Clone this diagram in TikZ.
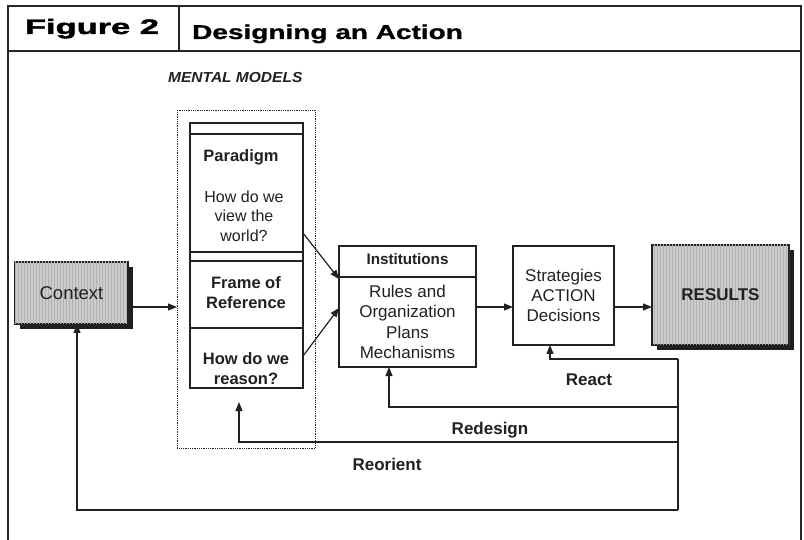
\documentclass[tikz,border=0pt]{standalone}
\usepackage{fontspec}
\setmainfont{Liberation Sans}
\newfontfamily\hdrfont{Liberation Sans}[BoldFeatures={FakeBold=1.6}]
\newfontfamily\ttlfont{Liberation Sans}[BoldFeatures={FakeBold=0.8}]
\usepackage{graphicx}
\usetikzlibrary{arrows.meta,patterns,shadows,calc}

\definecolor{ink}{gray}{0.13}
\definecolor{boxfill}{gray}{0.80}
\definecolor{stripe}{gray}{0.70}
\definecolor{shadowc}{gray}{0.12}

\tikzset{
  txt/.style={text=ink,font=\fontsize{17}{20.3}\selectfont,align=center,inner sep=0pt},
  btxt/.style={txt,font=\fontsize{16.5}{20}\selectfont\bfseries},
  box/.style={draw=ink,line width=1.3pt,fill=white,anchor=north west,inner sep=0pt,outer sep=0pt},
  shadedbox/.style={box,fill=boxfill,
    postaction={pattern=vertical lines,pattern color=stripe},
    drop shadow={shadow xshift=5pt,shadow yshift=-5pt,fill=shadowc,opacity=1}},
  arr/.style={draw=ink,line width=1.2pt,-{Triangle[length=9pt,width=7pt]}},
  ln/.style={draw=ink,line width=1.2pt},
  frame/.style={draw=black!85,line width=1.6pt},
}

\begin{document}
\begin{tikzpicture}[x=1pt,y=-1pt]
\useasboundingbox[fill=white] (0,0) rectangle (804,540);

% frame and header
\draw[frame] (8,540) -- (8,6) -- (801,6) -- (801,540);
\draw[frame] (8,51) -- (801,51);
\draw[frame] (179,6) -- (179,51);
\node[text=black,font=\fontsize{21}{24}\selectfont\hdrfont\bfseries,inner sep=0pt,anchor=base] (fig) at (92,34)
  {\scalebox{1.64}[1]{Figure 2}};
\node[text=black,font=\fontsize{20}{24}\selectfont\ttlfont\bfseries,inner sep=0pt,anchor=base west] (title) at (192,39)
  {\scalebox{1.40}[1]{Designing an Action}};

% mental models label
\node[text=ink,font=\fontsize{14.5}{17}\selectfont\bfseries\itshape,inner sep=0pt,anchor=base west] (mmlabel) at (168,83)
  {\scalebox{1.07}[1]{MENTAL MODELS}};

% dotted enclosure
\node[draw=ink,densely dotted,line width=0.8pt,anchor=north west,minimum width=138pt,minimum height=338pt,inner sep=0pt] (mm) at (177,110) {};

% mental model stack
\node[box,minimum width=113pt,minimum height=265pt] (stack) at (190,123) {};
\draw[ln] (stack.west |- 0,134) -- (stack.east |- 0,134);
\draw[ln] (stack.west |- 0,252) -- (stack.east |- 0,252);
\draw[ln] (stack.west |- 0,261) -- (stack.east |- 0,261);
\draw[ln] (stack.west |- 0,328) -- (stack.east |- 0,328);
\node[btxt] (paradigm) at (241,157) {Paradigm};
\node[txt,font=\fontsize{16}{19.5}\selectfont] (view) at (244,216) {How do we\\view the\\world?};
\node[btxt] (frame) at (246,293) {Frame of\\Reference};
\node[btxt] (reason) at (246,369) {How do we\\reason?};

% context
\node[shadedbox,minimum width=113pt,minimum height=62pt,txt,font=\fontsize{18.5}{22}\selectfont] (ctx) at (15,262) {Context};

% institutions
\node[box,minimum width=137pt,minimum height=121pt] (inst) at (339,246) {};
\draw[ln] (inst.west |- 0,277) -- (inst.east |- 0,277);
\node[btxt,font=\fontsize{15.2}{18}\selectfont\bfseries] (insttitle) at (407.5,259) {Institutions};
\node[txt] (instbody) at (407.5,322) {Rules and\\Organization\\Plans\\Mechanisms};

% strategies
\node[box,minimum width=101pt,minimum height=99pt,txt,font=\fontsize{17}{20}\selectfont] (strat) at (513,246) {Strategies\\ACTION\\Decisions};

% results
\node[shadedbox,minimum width=137pt,minimum height=100pt,btxt,font=\fontsize{17}{20}\selectfont\bfseries] (res) at (652,245) {RESULTS};

% forward arrows
\draw[arr] ([xshift=5pt]ctx.east |- 0,307) -- (mm.west |- 0,307);
\draw[arr] (stack.east |- 0,233) -- (inst.west |- 0,279);
\draw[arr] (stack.east |- 0,356) -- (inst.west |- 0,308);
\draw[arr] (inst.east |- 0,307) -- (strat.west |- 0,307);
\draw[arr] (strat.east |- 0,307) -- (res.west |- 0,307);

% feedback loops
\coordinate (fbtop) at (678,359);
\coordinate (fbbot) at (678,510);
\draw[ln] (fbbot) -- (fbtop);
\draw[arr] (fbtop) -- (550,359) -- (strat.south -| 550,0);
\draw[arr] (fbtop |- 0,407) -- (389,407) -- (inst.south -| 389,0);
\draw[arr] (fbtop |- 0,442) -- (239,442) -- ([yshift=-14pt]stack.south -| 239,0);
\draw[arr] (fbbot) -- (77,510) -- (ctx.south -| 77,0);

% loop labels
\node[btxt,font=\fontsize{17}{20}\selectfont\bfseries] (react) at (589,380) {React};
\node[btxt,font=\fontsize{17}{20}\selectfont\bfseries] (redesign) at (490,430) {Redesign};
\node[btxt,font=\fontsize{17}{20}\selectfont\bfseries] (reorient) at (387,464) {Reorient};
\end{tikzpicture}
\end{document}
